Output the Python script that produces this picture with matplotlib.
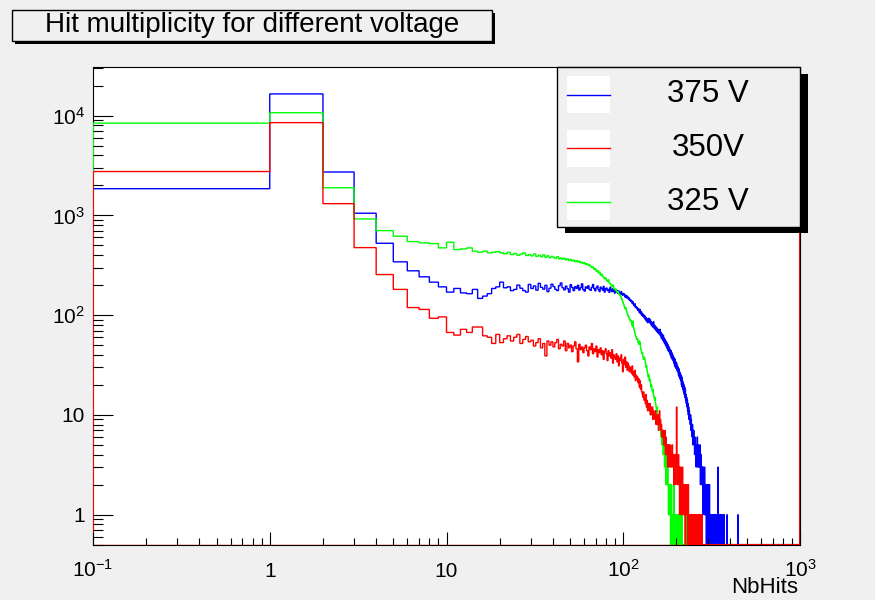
import numpy as np
import matplotlib
matplotlib.use('Agg')
import matplotlib.pyplot as plt
from matplotlib.patches import Rectangle
from matplotlib.lines import Line2D
from matplotlib.ticker import FixedLocator, LogLocator, NullFormatter, FixedFormatter

plt.rcParams['font.family'] = ['Liberation Sans', 'DejaVu Sans']
plt.rcParams['mathtext.fontset'] = 'custom'
plt.rcParams['mathtext.rm'] = 'Liberation Sans'
plt.rcParams['mathtext.it'] = 'Liberation Sans:italic'
plt.rcParams['mathtext.bf'] = 'Liberation Sans:bold'

# hit multiplicity histograms, one bin per hit count (bin i = [i, i+1))
blue_375 = [
    1850, 16500, 2720, 1050, 525, 342, 278, 242, 214, 192,
    170, 185, 167, 164, 181, 147, 155, 164, 185, 192,
    214, 188, 192, 176, 181, 200, 186, 176, 170, 203,
    185, 196, 178, 208, 190, 182, 199, 172, 186, 204,
    193, 181, 176, 197, 210, 188, 179, 195, 184, 170,
    202, 189, 176, 193, 185, 199, 178, 188, 206, 180,
    174, 192, 186, 197, 181, 177, 190, 203, 184, 175,
    188, 196, 180, 172, 191, 185, 178, 194, 170, 183,
    187, 176, 181, 169, 190, 178, 172, 184, 175, 166,
    180, 171, 177, 165, 174, 168, 160, 172, 163, 158,
    165, 161, 152, 158, 149, 155, 146, 150, 141, 144,
    137, 140, 131, 136, 127, 124, 130, 119, 122, 116,
    118, 111, 115, 106, 114, 103, 108, 99, 104, 97,
    101, 94, 98, 90, 95, 87, 92, 84, 89, 93,
    85, 91, 82, 87, 79, 84, 76, 81, 86, 74,
    79, 72, 77, 70, 75, 68, 73, 66, 71, 69,
    64, 72, 62, 67, 58, 65, 61, 56, 63, 54,
    59, 52, 57, 50, 55, 48, 53, 46, 51, 44,
    49, 43, 47, 41, 45, 39, 44, 37, 42, 36,
    40, 35, 38, 33, 37, 31, 36, 30, 34, 29,
    33, 28, 31, 27, 30, 25, 29, 24, 27, 23,
    26, 22, 25, 20, 24, 19, 22, 18, 21, 17,
    20, 16, 19, 15, 18, 14, 16, 13, 15, 12,
    14, 11, 13, 10, 12, 9, 11, 9, 10, 8,
    10, 7, 9, 7, 8, 6, 8, 5, 7, 6,
    7, 5, 6, 4, 6, 5, 4, 5, 3, 5,
    5, 4, 6, 3, 5, 4, 3, 5, 4, 3,
    4, 3, 5, 2, 3, 4, 2, 3, 3, 2,
    3, 2, 1, 3, 2, 2, 1, 2, 3, 1,
    2, 1, 2, 1, 1, 0, 2, 1, 1, 2,
    1, 0, 2, 1, 1, 0, 1, 2, 0, 1,
    1, 0, 1, 1, 0, 1, 0, 1, 0, 1,
    1, 0, 0, 1, 1, 0, 1, 0, 0, 1,
    0, 1, 0, 0, 1, 0, 0, 1, 0, 0,
    0, 0, 1, 3, 0, 0, 1, 0, 0, 1,
    0, 1, 0, 0, 0, 1, 0, 0, 0, 0,
    1, 0, 0, 0, 0, 0, 0, 1, 0, 0,
    0, 0, 1, 0, 0, 0, 0, 0, 0, 0,
    0, 0, 0, 0, 0, 0, 1, 0, 0, 0,
]
blue_extra = {445: 1}

red_350 = [
    2750, 8500, 1310, 475, 255, 181, 119, 114, 93, 96,
    67, 63, 72, 67, 76, 76, 62, 60, 52, 64,
    53, 58, 62, 55, 60, 64, 52, 57, 61, 54,
    56, 49, 53, 58, 47, 52, 39, 55, 50, 54,
    48, 53, 57, 46, 51, 49, 55, 44, 52, 47,
    50, 43, 49, 54, 46, 34, 51, 45, 48, 42,
    47, 50, 44, 39, 48, 45, 52, 41, 46, 43,
    49, 38, 45, 42, 47, 40, 44, 36, 43, 46,
    41, 35, 44, 39, 42, 37, 45, 33, 40, 38,
    36, 41, 34, 39, 31, 37, 35, 40, 33, 27,
    36, 32, 38, 30, 34, 28, 33, 31, 27, 30,
    29, 26, 31, 25, 27, 24, 28, 22, 25, 23,
    24, 21, 23, 19, 22, 18, 20, 17, 16, 15,
    17, 14, 15, 13, 16, 12, 14, 11, 13, 12,
    11, 13, 10, 12, 11, 10, 12, 9, 11, 10,
    10, 9, 11, 8, 10, 9, 8, 10, 7, 9,
    11, 8, 9, 7, 8, 6, 7, 6, 7, 5,
    6, 5, 7, 4, 6, 5, 4, 5, 3, 5,
    4, 5, 3, 4, 5, 3, 4, 4, 3, 5,
    4, 3, 4, 2, 3, 4, 3, 2, 4, 3,
    12, 3, 2, 3, 2, 4, 2, 3, 1, 2,
    2, 3, 1, 2, 2, 1, 3, 2, 1, 2,
    1, 2, 2, 1, 0, 2, 1, 1, 2, 1,
    1, 0, 1, 2, 1, 1, 0, 1, 1, 0,
    1, 1, 0, 1, 0, 1, 1, 0, 1, 0,
    0, 1, 0, 1, 0, 0, 1, 0, 0, 1,
    0, 0, 1, 0, 0, 1, 0, 0, 0, 1,
    0, 0, 0, 1, 0, 0, 0, 0, 1, 0,
]
red_last_bin = 1e5  # content of bin [999, 1000)

green_325 = [
    8400, 10700, 1890, 920, 703, 617, 546, 530, 521, 472,
    537, 454, 461, 472, 437, 427, 437, 421, 427, 433,
    421, 412, 426, 404, 415, 398, 409, 421, 396, 403,
    392, 410, 387, 399, 384, 402, 380, 393, 376, 388,
    379, 370, 385, 366, 374, 362, 371, 358, 367, 353,
    362, 349, 356, 344, 352, 340, 347, 334, 339, 329,
    335, 322, 327, 315, 319, 309, 300, 304, 288, 292,
    276, 281, 265, 270, 252, 258, 246, 240, 231, 236,
    224, 218, 226, 210, 207, 199, 194, 201, 186, 180,
    183, 174, 169, 172, 163, 160, 157, 148, 143, 135,
    129, 122, 116, 118, 110, 104, 99, 96, 92, 88,
    89, 84, 78, 87, 75, 70, 66, 62, 60, 57,
    58, 53, 51, 55, 53, 47, 44, 41, 42, 38,
    36, 38, 36, 33, 30, 31, 28, 26, 24, 25,
    22, 23, 21, 19, 20, 18, 17, 18, 16, 15,
    14, 15, 13, 12, 11, 12, 10, 9, 10, 8,
    9, 7, 8, 6, 7, 5, 6, 5, 4, 5,
    4, 3, 4, 3, 2, 4, 3, 2, 3, 2,
    1, 2, 1, 2, 1, 0, 1, 2, 1, 0,
    1, 1, 0, 2, 1, 1, 0, 1, 1, 0,
    1, 0, 1, 1, 0, 1, 0, 0, 1, 0,
    0, 1, 0, 0, 1, 0, 0, 0, 0, 0,
    0, 0, 0, 0, 0, 0, 0, 0, 0, 1,
]

labels = ['375 V', '350V', '325 V']
colors = ['#0000ff', '#ff0000', '#00ff00']
xtick_vals = [0.1, 1, 10, 100, 1000]
xtick_text = [r'$\mathregular{10^{-1}}$', '1', '10', r'$\mathregular{10^{2}}$', r'$\mathregular{10^{3}}$']
ytick_vals = [1, 10, 100, 1000, 10000]
ytick_text = ['1', '10', r'$\mathregular{10^{2}}$', r'$\mathregular{10^{3}}$', r'$\mathregular{10^{4}}$']

nbins = 1000
xmin, xmax = 0.1, 1000
floor = 0.5          # empty bins sit on the bottom of the frame, like ROOT log plots
ymin, ymax = 0.496, 3.07e4


def fill(counts, extra=None):
    h = np.zeros(nbins)
    h[:len(counts)] = counts
    if extra:
        for k, v in extra.items():
            h[k] = v
    return h


h_blue = fill(blue_375, blue_extra)
h_red = fill(red_350)
h_red[-1] = red_last_bin
h_green = fill(green_325)

edges = np.arange(nbins + 1, dtype=float)
edges[0] = xmin * 1.004  # first bin clipped at frame, like ROOT does

bg = '#f0f0f0'
W, H = 875, 600
fig = plt.figure(figsize=(W / 100, H / 100), dpi=100, facecolor=bg)
ax = fig.add_axes([93 / W, 1 - 545 / H, 707 / W, 478 / H])
ax.set_facecolor('white')

# blue, green, then red; red also gets its baseline drawn along the bottom
ax.stairs(np.clip(h_blue, floor, None), edges, baseline=floor, color=colors[0], lw=1.0)
ax.stairs(np.clip(h_green, floor, None), edges, baseline=floor, color=colors[2], lw=1.0)
ax.hlines(floor, edges[0], edges[-1], color=colors[1], lw=1.0)
ax.stairs(np.clip(h_red, floor, None), edges, baseline=floor, color=colors[1], lw=1.0)

ax.set_xscale('log')
ax.set_yscale('log')
ax.set_xlim(xmin, xmax)
ax.set_ylim(ymin, ymax)

ax.xaxis.set_major_locator(FixedLocator(xtick_vals))
ax.xaxis.set_major_formatter(FixedFormatter(xtick_text))
ax.xaxis.set_minor_locator(LogLocator(base=10, subs=range(2, 10), numticks=20))
ax.xaxis.set_minor_formatter(NullFormatter())
ax.yaxis.set_major_locator(FixedLocator(ytick_vals))
ax.yaxis.set_major_formatter(FixedFormatter(ytick_text))
ax.yaxis.set_minor_locator(LogLocator(base=10, subs=range(2, 10), numticks=20))
ax.yaxis.set_minor_formatter(NullFormatter())

ax.tick_params(axis='both', which='both', direction='in', top=False, right=False,
               colors='black', labelsize=15, width=0.8)
ax.tick_params(axis='y', which='major', length=14.5, pad=6)
ax.tick_params(axis='y', which='minor', length=7.5)
ax.tick_params(axis='x', which='major', length=9.5, pad=23)
ax.tick_params(axis='x', which='minor', length=5)
for lab in ax.get_xticklabels():
    lab.set_va('baseline')

for s in ax.spines.values():
    s.set_color('black')
    s.set_linewidth(0.8)
    s.set_zorder(0.5)

ax.set_xlabel('NbHits', fontsize=16, ha='right', va='baseline')
ax.xaxis.set_label_coords((798 - 93) / 707, -(593 - 545) / 478)


def fx(px):
    return px / W


def fy(py):
    return 1 - py / H


# title box with shadow
fig.add_artist(Rectangle((fx(15), fy(44)), fx(480), 31 / H, transform=fig.transFigure,
                         facecolor='black', edgecolor='black', lw=0))
fig.add_artist(Rectangle((fx(12), fy(41)), fx(480), 31 / H, transform=fig.transFigure,
                         facecolor=bg, edgecolor='black', lw=1.0))
fig.text(fx(252), fy(25), 'Hit multiplicity for different voltage', fontsize=20,
         ha='center', va='center')

# legend box with shadow
fig.add_artist(Rectangle((fx(565), fy(233)), fx(243), 159 / H, transform=fig.transFigure,
                         facecolor='black', edgecolor='black', lw=0, zorder=2))
fig.add_artist(Rectangle((fx(557), fy(227)), fx(243), 160 / H, transform=fig.transFigure,
                         facecolor=bg, edgecolor='black', lw=1.0, zorder=2))
for i, (lab, c) in enumerate(zip(labels, colors)):
    yc = 94.5 + 53.5 * i
    fig.add_artist(Rectangle((fx(567), fy(yc + 18.5)), fx(43), 37 / H, transform=fig.transFigure,
                             facecolor='white', edgecolor='none', zorder=3))
    fig.add_artist(Line2D([fx(567), fx(610)], [fy(yc), fy(yc)], transform=fig.transFigure,
                          color=c, lw=1.0, zorder=4))
    fig.text(fx(708), fy(yc), lab, fontsize=22.5, ha='center', va='center', zorder=4)

fig.savefig('out.png', dpi=100, facecolor=bg)
